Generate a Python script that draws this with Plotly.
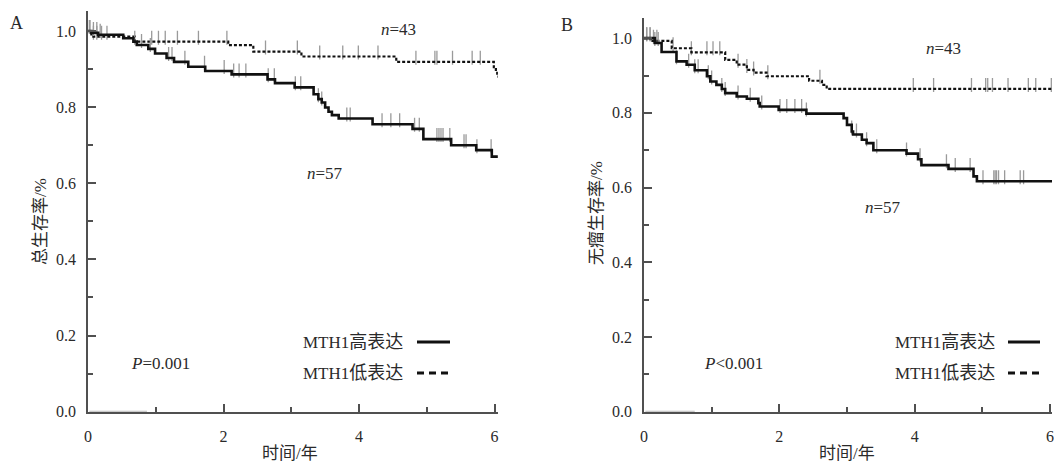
import numpy as np
import plotly.graph_objects as go

# ---------------- data ----------------
# Panel A: overall survival
a_high_t = [0.05, 0.15, 0.52, 0.67, 0.72, 0.89, 0.99, 1.16, 1.27, 1.48, 1.73, 2.12, 2.65, 2.76,
            3.05, 3.33, 3.40, 3.45, 3.50, 3.55, 3.60, 3.70, 4.20, 4.79, 4.95, 5.36, 5.73, 5.96]
a_high_s = [0.995, 0.990, 0.981, 0.972, 0.963, 0.953, 0.941, 0.929, 0.919, 0.906, 0.895, 0.886, 0.873, 0.863,
            0.852, 0.834, 0.821, 0.812, 0.799, 0.788, 0.779, 0.770, 0.755, 0.743, 0.716, 0.700, 0.687, 0.670]
a_high_end = 6.05
a_high_cens = [0.02, 0.08, 0.13, 0.18, 0.69, 0.79, 0.92, 1.19, 1.24, 1.43, 1.72, 2.01, 2.15, 2.23, 2.33,
               2.66, 2.75, 3.06, 3.14, 3.40, 3.45, 3.82, 3.87, 4.34, 4.47, 4.60, 4.82, 4.89, 5.15, 5.18,
               5.21, 5.24, 5.34, 5.55, 5.58, 5.74, 5.95]

a_low_t = [0.05, 0.69, 2.07, 2.44, 3.15, 4.55, 5.99, 6.02, 6.04]
a_low_s = [0.985, 0.972, 0.963, 0.946, 0.933, 0.919, 0.905, 0.893, 0.880]
a_low_end = 6.05
a_low_cens = [0.03, 0.08, 0.13, 0.20, 0.28, 0.94, 1.04, 1.14, 1.32, 1.63, 2.05, 2.62, 3.09, 3.42, 3.76,
              3.99, 4.28, 4.84, 5.12, 5.15, 5.38, 5.67, 5.79]

# Panel B: tumour-free survival
b_high_t = [0.16, 0.26, 0.48, 0.63, 0.75, 0.93, 0.98, 1.07, 1.15, 1.20, 1.37, 1.52, 1.69, 1.71, 1.99,
            2.40, 2.95, 3.00, 3.07, 3.09, 3.22, 3.29, 3.39, 3.88, 4.05, 4.10, 4.50, 4.87, 4.92]
b_high_s = [0.987, 0.963, 0.938, 0.929, 0.914, 0.898, 0.884, 0.875, 0.864, 0.853, 0.844, 0.838, 0.826, 0.817, 0.808,
            0.798, 0.786, 0.768, 0.750, 0.742, 0.728, 0.719, 0.700, 0.691, 0.676, 0.660, 0.650, 0.630, 0.617]
b_high_end = 6.06
b_high_cens = [0.04, 0.09, 0.16, 0.21, 0.48, 0.66, 0.75, 0.80, 0.95, 1.00, 1.15, 1.20, 1.39, 1.57, 1.74,
               2.01, 2.11, 2.23, 2.33, 2.40, 3.07, 3.14, 3.29, 3.44, 3.88, 4.08, 4.47, 4.60, 4.82, 5.01,
               5.17, 5.19, 5.21, 5.24, 5.33, 5.56, 5.61]

b_low_t = [0.10, 0.41, 0.70, 1.20, 1.37, 1.52, 1.62, 1.81, 2.44, 2.63, 2.70]
b_low_s = [0.993, 0.973, 0.962, 0.942, 0.929, 0.915, 0.908, 0.898, 0.886, 0.875, 0.864]
b_low_end = 6.06
b_low_cens = [0.04, 0.09, 0.14, 0.19, 0.43, 0.70, 0.93, 1.02, 1.12, 1.39, 1.52, 1.62, 1.83, 2.60,
              3.98, 4.28, 4.84, 5.05, 5.08, 5.15, 5.38, 5.68, 5.79, 6.02]

x_ticks = [0, 2, 4, 6]
y_ticks = [0.0, 0.2, 0.4, 0.6, 0.8, 1.0]
legend_labels = ["MTH1高表达", "MTH1低表达"]
ytitles = ["总生存率/%", "无瘤生存率/%"]
xtitle = "时间/年"
p_texts = ["<i>P</i>=0.001", "<i>P</i>&lt;0.001"]

# ---------------- layout helpers ----------------
W, H = 1054, 467
def fx(px):
    return px / W
def fy(py):
    return 1 - py / H

SERIF = "Liberation Serif, Times New Roman, Noto Sans CJK SC, serif"
TXT = "#2a2a2a"
AX = "#505050"

def step_xy(times, surv, end):
    return [0] + list(times) + [end], [1.0] + list(surv) + [surv[-1]]

def surv_at(times, surv, tc):
    t = np.asarray(times)
    s = np.asarray([1.0] + list(surv))
    idx = np.searchsorted(t, np.asarray(tc), side="right")
    return s[idx]

fig = go.Figure()

panels = [
    dict(xa="x", ya="y", high=(a_high_t, a_high_s, a_high_end, a_high_cens),
         low=(a_low_t, a_low_s, a_low_end, a_low_cens), ppu=380.7),
    dict(xa="x2", ya="y2", high=(b_high_t, b_high_s, b_high_end, b_high_cens),
         low=(b_low_t, b_low_s, b_low_end, b_low_cens), ppu=373.4),
]

for p in panels:
    off = 4.0 / p["ppu"]
    for key, dash, width in [("low", "3px,2px", 2.2), ("high", "solid", 2.6)]:
        t, s, end, cens = p[key]
        cy = surv_at(t, s, cens) + off
        fig.add_trace(go.Scatter(x=cens, y=cy, mode="markers", xaxis=p["xa"], yaxis=p["ya"],
                                 marker=dict(symbol="line-ns", size=10,
                                             line=dict(color="#9a9a9a", width=1.3)),
                                 showlegend=False, hoverinfo="skip"))
        xs, ys = step_xy(t, s, end)
        fig.add_trace(go.Scatter(x=xs, y=ys, mode="lines", line_shape="hv", xaxis=p["xa"], yaxis=p["ya"],
                                 line=dict(color="#111111", width=width, dash=dash),
                                 showlegend=False, hoverinfo="skip"))

axis_common = dict(showgrid=False, zeroline=False, showline=True, linecolor=AX, linewidth=1.8,
                   ticks="inside", ticklen=8, tickwidth=1.5, tickcolor=AX, automargin=False,
                   tickfont=dict(family=SERIF, size=16, color=TXT), fixedrange=True)
minor_x = dict(dtick=1, ticks="inside", ticklen=5, tickwidth=1.5, tickcolor=AX)
minor_y = dict(dtick=0.1, ticks="inside", ticklen=5, tickwidth=1.5, tickcolor=AX)

fig.update_layout(
    width=W, height=H, autosize=False, margin=dict(l=0, r=0, t=0, b=0, pad=0),
    plot_bgcolor="white", paper_bgcolor="white", showlegend=False,
    xaxis=dict(domain=[fx(88), fx(497.9)], range=[0, 6.05], tickvals=x_ticks, anchor="y",
               minor=minor_x, ticklabelstandoff=9, **axis_common),
    yaxis=dict(domain=[fy(411.7), fy(11)], range=[0, 1.0525], tickvals=y_ticks, tickformat=".1f", anchor="x",
               minor=minor_y, ticklabelstandoff=7, **axis_common),
    xaxis2=dict(domain=[fx(644), fx(1052)], range=[0, 6.03], tickvals=x_ticks, anchor="y2",
                minor=minor_x, ticklabelstandoff=9, **axis_common),
    yaxis2=dict(domain=[fy(411.7), fy(18)], range=[0, 1.054], tickvals=y_ticks, tickformat=".1f", anchor="x2",
                minor=minor_y, ticklabelstandoff=7, **axis_common),
)

ann = []
def add_text(text, x, y, size=15, xanchor="center", angle=0):
    ann.append(dict(text=text, x=fx(x), y=fy(y), xref="paper", yref="paper", showarrow=False,
                    xanchor=xanchor, yanchor="middle", textangle=angle,
                    font=dict(family=SERIF, size=size, color=TXT)))

def cjk(label, big=18):
    latin = label[:4]
    rest = label[4:]
    return latin + '<span style="font-size:%dpx">%s</span>' % (big, rest)

# panel letters
add_text("A", 16, 23, size=18)
add_text("B", 567, 25, size=18)
# axis titles
add_text(ytitles[0], 40, 222, size=17, angle=-90)
add_text(ytitles[1], 596, 213, size=17, angle=-90)
add_text(xtitle, 290, 453, size=17)
add_text(xtitle, 847, 453, size=17)
# n labels
add_text("<i>n</i>=43", 398, 29, size=17)
add_text("<i>n</i>=57", 325, 174, size=17)
add_text("<i>n</i>=43", 943, 48, size=17)
add_text("<i>n</i>=57", 883, 207, size=17)
# P values
add_text(p_texts[0], 160, 363, size=17)
add_text(p_texts[1], 733, 363, size=17)
# legends
for right, ly in [(405, 342), (997, 342)]:
    add_text(cjk(legend_labels[0]), right, ly, size=17, xanchor="right")
    add_text(cjk(legend_labels[1]), right, ly + 31, size=17, xanchor="right")

shapes = []
for (x0, x1, ly) in [(417, 450, 342), (1008, 1040, 342)]:
    shapes.append(dict(type="line", xref="paper", yref="paper", x0=fx(x0), x1=fx(x1), y0=fy(ly), y1=fy(ly),
                       line=dict(color="#111111", width=3)))
    shapes.append(dict(type="line", xref="paper", yref="paper", x0=fx(x0), x1=fx(x1), y0=fy(ly + 31), y1=fy(ly + 31),
                       line=dict(color="#111111", width=3, dash="7px,5px")))
# faint start of the x axes (scan artefact)
shapes.append(dict(type="line", xref="x", yref="y", x0=0.02, x1=0.87, y0=0, y1=0,
                   line=dict(color="#b8b8b8", width=1.8)))
shapes.append(dict(type="line", xref="x2", yref="y2", x0=0.02, x1=0.75, y0=0, y1=0,
                   line=dict(color="#b8b8b8", width=1.8)))

fig.update_layout(annotations=ann, shapes=shapes)
fig.write_html("out.html", config={"displayModeBar": False, "responsive": False},
               post_script="document.body.style.margin='0';document.body.style.overflow='hidden';")
